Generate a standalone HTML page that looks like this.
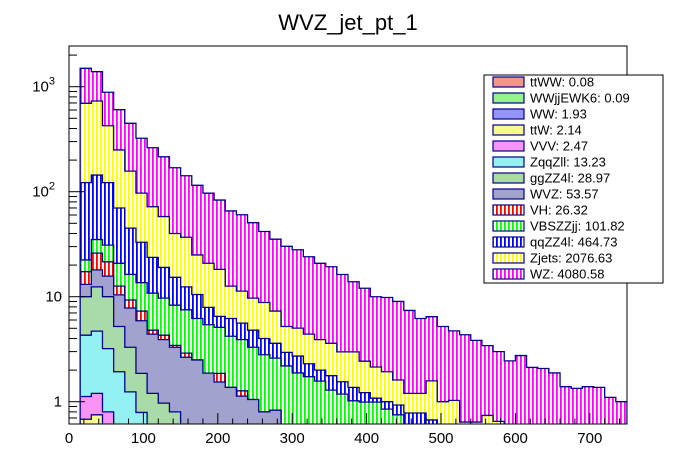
<!DOCTYPE html>
<html><head><meta charset="utf-8"><style>
html,body{margin:0;padding:0;background:#fff;}
svg{display:block;font-family:"Liberation Sans",sans-serif;}
</style></head><body>
<svg id="c" width="696" height="472" viewBox="0 0 696 472">
<defs>
<clipPath id="clip"><rect x="69" y="46" width="558" height="378"/></clipPath>
</defs>
<text x="348" y="30" text-anchor="middle" font-size="22">WVZ_jet_pt_1</text>
<g id="bars" clip-path="url(#clip)"></g>
<rect x="69" y="46" width="558" height="378" fill="none" stroke="#000" stroke-width="1"/>
<g id="axes"></g>
<g id="legend"></g>
</svg>
<script>
const binStart = 15, binWidth = 15;
const xTicks = [0,100,200,300,400,500,600,700];
const yTickLabels = ["1","10","10","10"];
const yTickExp = [0,1,2,3];
const seriesNames = ["ttWW","WWjjEWK6","WW","ttW","VVV","ZqqZll","ggZZ4l","WVZ","VH","VBSZZjj","qqZZ4l","Zjets","WZ"];
const legendLabels = ["ttWW: 0.08","WWjjEWK6: 0.09","WW: 1.93","ttW: 2.14","VVV: 2.47","ZqqZll: 13.23","ggZZ4l: 28.97","WVZ: 53.57","VH: 26.32","VBSZZjj: 101.82","qqZZ4l: 464.73","Zjets: 2076.63","WZ: 4080.58"];
const ttWW = [0.01,0.02,0.01,0.01,0.01];
const WWjjEWK6 = [0.02,0.02,0.01,0.01,0.01];
const WW = [0.25,0.3,0.2,0.15,0.1,0.08,0.05,0.04,0.03,0.02,0.02,0.01];
const ttW = [0.40,0.41,0.1,0.05,0.03,0.02,0.01];
const VVV = [0.44,0.45,0.48,0.2,0.1,0.05,0.03,0.02];
const ZqqZll = [3.18,3.5,2.4,1.51,0.99,0.64,0.3,0.15,0.08,0.04];
const ggZZ4l = [5.7,7.7,6.8,3.27,2.06,1.07,0.81,0.76,0.69,0.4,0.3,0.2,0.15,0.1,0.08,0.06,0.05,0.04,0.03,0.02];
const WVZ = [3.1,5.6,5.7,5.2,4.5,4.04,3.2,2.93,2.5,2.19,2.18,1.66,1.39,1.27,1.05,0.99,0.75,0.79,0.5,0.45,0.4,0.35,0.3,0.25,0.2,0.2,0.15,0.15,0.1,0.1,0.1,0.08,0.05];
const VH = [4.2,8,5.8,2.2,1.5,1.4,0.4,0.4,0.14,0.25,0,0,0.32,0,0.14,0,0,0,0.05,0.02,0.02,0.02,0.02];
const VBSZZjj = [5.1,9,9.5,8.2,7.0,6.3,6.0,5.4,4.86,4.6,3.7,3.54,3.24,2.83,2.63,2.25,2.0,1.77,1.61,1.39,1.31,1.2,0.97,0.93,0.82,0.79,0.84,0.7,0.65,0.4,0.35,0.3,0.25,0.2,0.2,0.15,0.1,0.1,0.1,0.1,0.1,0.05,0.05,0.05,0.05,0.05,0.05,0.05,0.05];
const qqZZ4l = [99.6,109,91,49.2,28.7,19.4,12.9,9.3,7.0,4.9,4.3,2.5,1.4,2.0,1.7,1.5,1.2,1.0,0.76,0.84,0.57,0.43,0.48,0.37,0.35,0.23,0.09,0.15,0.18,0.28,0.33,0.29,0.2,0.15,0.1,0.1,0.1,0.1,0.1,0.1,0.05,0.05,0.05,0.05,0.05,0.05,0.05,0.05,0.05];
const Zjets = [573,587,303,180,112,64,48.3,39,24.7,24.4,14.5,12.9,11.7,6.4,5.7,4.9,4.8,3.7,2.25,2.3,2.1,1.9,1.83,1.43,1.61,1.21,1.06,0.93,0.68,0.42,0.42,0.91,0.5,0.68,0.34,0.39,0.54,0.45,0.25,0.25,0.2,0.2,0.15,0.15,0.1,0.1,0.1,0.1,0.1];
const WZ = [802,659,460,354,291,226,190,157,129,105,90,76,65,53,49,41,33,28,25,23,19.6,16.9,15.7,13.3,10.9,9.6,7.85,7.9,7.4,6.2,5.0,4.87,4.2,3.7,3.7,3.2,2.68,2.35,2.0,2.3,1.77,1.77,1.63,1.14,1.14,1.19,1.17,0.9,0.8];

const NS="http://www.w3.org/2000/svg";
const svg=document.getElementById('c');
const defs=svg.querySelector('defs');
const X0=69,X1=627,Y0=424,Y1=46,xmin=0,xmax=750,ymin=0.62,decade=105,y1pos=401.7;
function xs(v){return X0+(v-xmin)/(xmax-xmin)*(X1-X0);}
function ys(v){if(v<=ymin) return Y0+2; return y1pos-Math.log10(v)*decade;}
function mk(tag,attrs,parent){const e=document.createElementNS(NS,tag);for(const k in attrs)e.setAttribute(k,attrs[k]);if(parent)parent.appendChild(e);return e;}

const styles=[["chk","#e00000"],["chk","#00dd00"],["chk","#0000ee"],["chk","#eeee00"],["chk","#ee00ee"],["chk","#00dddd"],["chk","#33aa33"],["chk","#22228a"],["hatch","#ff0000"],["hatch","#00ff00"],["hatch","#0000ff"],["hatch","#ffff00"],["hatch","#ff00ff"]];
styles.forEach((s,i)=>{
  const h=s[0]==='hatch';
  const p=mk('pattern',{id:'p'+i,patternUnits:'userSpaceOnUse',width:h?4:2,height:h?4:2},defs);
  mk('rect',{x:0,y:0,width:4,height:4,fill:'#fff'},p);
  if(h){mk('rect',{x:0,y:0,width:1.8,height:4,fill:s[1]},p);}
  else{mk('rect',{x:0,y:0,width:2,height:2,fill:s[1],'fill-opacity':0.42},p);}
});

const series=[ttWW,WWjjEWK6,WW,ttW,VVV,ZqqZll,ggZZ4l,WVZ,VH,VBSZZjj,qqZZ4l,Zjets,WZ];
const nb=WZ.length;
const cum=[];let run=new Array(nb).fill(0);
series.forEach(s=>{run=run.map((r,i)=>r+(s[i]||0));cum.push(run.slice());});
const bars=document.getElementById('bars');
for(let k=series.length-1;k>=0;k--){
  const c=cum[k];
  let d=`M${xs(binStart)},${Y0+2}`;
  for(let i=0;i<nb;i++){const xa=xs(binStart+i*binWidth),xb=xs(binStart+(i+1)*binWidth);d+=` L${xa},${ys(c[i])} L${xb},${ys(c[i])}`;}
  d+=` L${xs(binStart+nb*binWidth)},${Y0+2} Z`;
  const path=mk('path',{d:d,fill:`url(#p${k})`,stroke:'#00008b','stroke-width':1.3},bars);
  
  
}

const ax=document.getElementById('axes');
for(let v=0;v<=740;v+=20){
  const major=v%100===0;
  mk('line',{x1:xs(v),x2:xs(v),y1:Y0,y2:Y0-(major?11:5.5),stroke:'#000','stroke-width':1},ax);
}
xTicks.forEach(v=>{
  const t=mk('text',{x:xs(v),y:443,'text-anchor':'middle','font-size':15},ax);t.textContent=String(v);
  
  
});
for(let e=-1;e<=3;e++){for(let m=1;m<=9;m++){const v=m*Math.pow(10,e);if(v<ymin||v>2500)continue;const y=ys(v);
  mk('line',{x1:X0,x2:X0+(m===1?16:8),y1:y,y2:y,stroke:'#000','stroke-width':1},ax);}}
yTickExp.forEach((e,i)=>{
  const y=ys(Math.pow(10,e));
  const t=mk('text',{x:e<2?62:55,y:y+5,'text-anchor':'end','font-size':15},ax);
  t.textContent=yTickLabels[i];
  if(e>=2){const s=mk('tspan',{dy:-7,'font-size':11},t);s.textContent=String(e);}
  
  
});

const lg=document.getElementById('legend');
mk('rect',{x:484,y:75,width:179,height:208,fill:'#fff',stroke:'#000','stroke-width':1},lg);
legendLabels.forEach((lab,i)=>{
  const y=82+i*16;
  const r=mk('rect',{x:493,y:y-5,width:31,height:10,fill:`url(#p${i})`,stroke:'#00008b','stroke-width':1.2},lg);
  
  
  const t=mk('text',{x:530,y:y+4.5,'font-size':13},lg);t.textContent=lab;
  
  
});
</script>
</body></html>
